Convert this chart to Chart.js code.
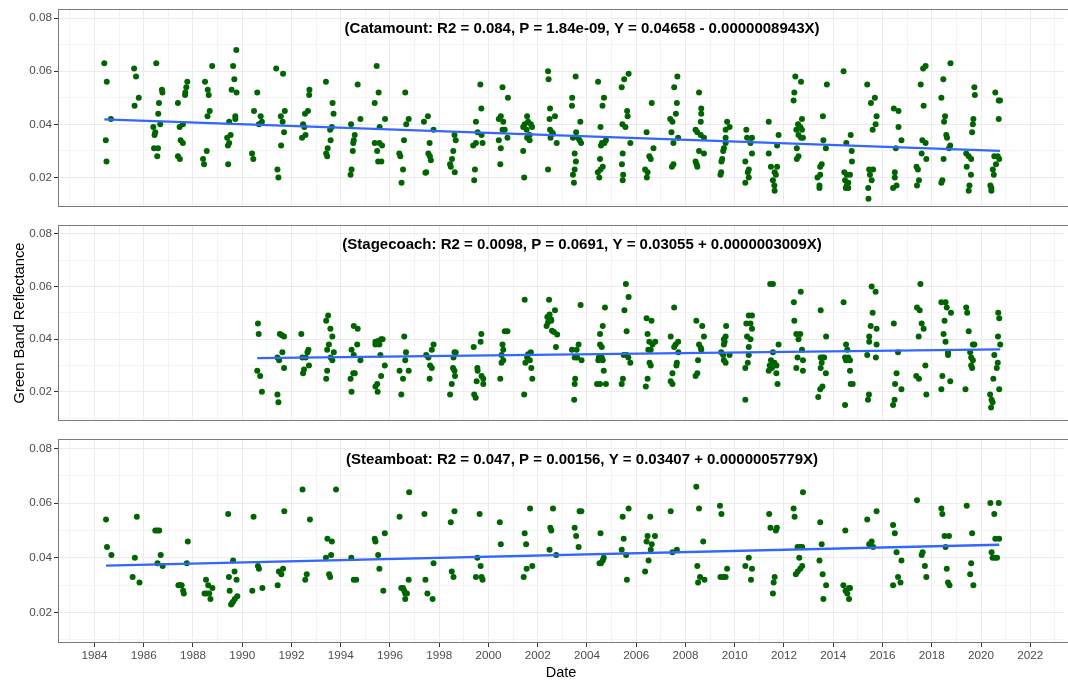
<!DOCTYPE html>
<html>
<head>
<meta charset="utf-8">
<script src="https://cdn.jsdelivr.net/npm/chart.js"></script>
<style>
  html, body { margin: 0; padding: 0; background: #fff; }
  #wrap { position: relative; width: 1068px; height: 680px; overflow: hidden; }
  .panel { position: absolute; left: 0; width: 1068px; }
</style>
</head>
<body>
<div id="wrap">
  <div class="panel" style="top:0px;height:216px"><canvas id="cat" width="1068" height="216"></canvas></div>
  <div class="panel" style="top:216px;height:214px"><canvas id="stage" width="1068" height="214"></canvas></div>
  <div class="panel" style="top:430px;height:250px"><canvas id="steam" width="1068" height="250"></canvas></div>
</div>
<script>
// axis ranges (decimal years / reflectance)
const X_MIN = 1982.52, X_MAX = 2023.37;
const Y_MIN = 0.0089, Y_MAX = 0.0834;
const xTickYears = [];
for (let y = 1983; y <= 2023; y++) xTickYears.push(y);
const yTickValues = [0.01, 0.02, 0.03, 0.04, 0.05, 0.06, 0.07, 0.08];

// fitted lines: Y = intercept + slope * X, X = days since 1970-01-01
const catamountFit = [0.04658, -0.0000008943];
const stagecoachFit = [0.03055, 0.0000003009];
const steamboatFit = [0.03407, 0.0000005779];

const catamountLabel = '(Catamount: R2 = 0.084, P = 1.84e-09, Y = 0.04658 - 0.0000008943X)';
const stagecoachLabel = '(Stagecoach: R2 = 0.0098, P = 0.0691, Y = 0.03055 + 0.0000003009X)';
const steamboatLabel = '(Steamboat: R2 = 0.047, P = 0.00156, Y = 0.03407 + 0.0000005779X)';

// observations [decimal year, green band reflectance]
const catamountObs = [
  [1984.40,0.063],[1984.50,0.056],[1984.67,0.042],[1984.46,0.034],[1984.49,0.026],
  [1985.61,0.061],[1985.69,0.058],[1985.80,0.050],[1985.63,0.047],
  [1986.51,0.063],[1986.74,0.053],[1986.76,0.052],[1986.62,0.048],[1986.59,0.044],[1986.67,0.040],[1986.39,0.039],[1986.47,0.037],[1986.44,0.036],[1986.42,0.031],[1986.58,0.031],[1986.55,0.028],
  [1987.77,0.056],[1987.73,0.054],[1987.69,0.052],[1987.68,0.051],[1987.39,0.048],[1987.59,0.040],[1987.46,0.039],[1987.50,0.034],[1987.59,0.033],[1987.39,0.028],[1987.47,0.027],
  [1988.49,0.056],[1988.60,0.053],[1988.64,0.051],[1988.68,0.045],[1988.59,0.043],[1988.78,0.062],[1988.56,0.030],[1988.41,0.027],[1988.45,0.025],
  [1989.76,0.068],[1989.63,0.062],[1989.68,0.057],[1989.57,0.053],[1989.77,0.052],[1989.72,0.043],[1989.72,0.042],[1989.47,0.041],[1989.53,0.036],[1989.39,0.035],[1989.47,0.033],[1989.42,0.032],[1989.43,0.025],
  [1990.61,0.052],[1990.48,0.045],[1990.75,0.043],[1990.80,0.041],[1990.68,0.040],[1990.40,0.029],[1990.45,0.027],
  [1991.38,0.061],[1991.66,0.059],[1991.73,0.045],[1991.57,0.043],[1991.64,0.041],[1991.70,0.037],[1991.58,0.032],[1991.43,0.023],[1991.47,0.020],
  [1992.73,0.053],[1992.72,0.051],[1992.67,0.045],[1992.55,0.044],[1992.47,0.040],[1992.52,0.039],[1992.57,0.036],[1992.43,0.035],
  [1993.40,0.056],[1993.67,0.048],[1993.71,0.044],[1993.64,0.039],[1993.57,0.038],[1993.59,0.034],[1993.47,0.031],[1993.41,0.029],[1993.45,0.028],
  [1994.69,0.055],[1994.80,0.042],[1994.42,0.040],[1994.57,0.036],[1994.53,0.034],[1994.51,0.033],[1994.49,0.030],[1994.44,0.023],[1994.40,0.021],
  [1995.46,0.062],[1995.54,0.052],[1995.38,0.048],[1995.58,0.039],[1995.80,0.042],[1995.38,0.033],[1995.57,0.033],[1995.68,0.032],[1995.48,0.030],[1995.52,0.026],[1995.65,0.026],
  [1996.62,0.052],[1996.76,0.042],[1996.66,0.040],[1996.57,0.034],[1996.38,0.029],[1996.42,0.028],[1996.53,0.023],[1996.47,0.018],
  [1997.54,0.043],[1997.38,0.041],[1997.77,0.038],[1997.61,0.033],[1997.56,0.029],[1997.62,0.028],[1997.66,0.0265],[1997.47,0.022],[1997.44,0.0218],
  [1998.62,0.036],[1998.67,0.034],[1998.57,0.030],[1998.52,0.027],[1998.44,0.025],[1998.47,0.024],[1998.63,0.022],
  [1999.67,0.055],[1999.71,0.046],[1999.49,0.041],[1999.56,0.037],[1999.72,0.036],[1999.76,0.033],[1999.38,0.032],[1999.49,0.033],[1999.45,0.023],[1999.42,0.019],
  [2000.57,0.054],[2000.79,0.050],[2000.42,0.042],[2000.50,0.043],[2000.60,0.041],[2000.57,0.038],[2000.66,0.038],[2000.77,0.035],[2000.42,0.034],[2000.50,0.031],[2000.48,0.025],
  [2001.57,0.043],[2001.41,0.039],[2001.47,0.040],[2001.61,0.041],[2001.72,0.040],[2001.77,0.039],[2001.55,0.038],[2001.67,0.036],[2001.57,0.035],[2001.67,0.034],[2001.41,0.030],[2001.45,0.020],
  [2002.42,0.060],[2002.44,0.057],[2002.50,0.046],[2002.70,0.043],[2002.48,0.042],[2002.50,0.038],[2002.58,0.037],[2002.62,0.0365],[2002.52,0.035],[2002.77,0.033],[2002.42,0.023],
  [2003.54,0.058],[2003.40,0.050],[2003.39,0.047],[2003.73,0.041],[2003.56,0.037],[2003.43,0.035],[2003.63,0.035],[2003.70,0.034],[2003.76,0.033],[2003.50,0.029],[2003.55,0.026],[2003.50,0.023],[2003.43,0.021],[2003.47,0.018],
  [2004.45,0.056],[2004.69,0.050],[2004.63,0.047],[2004.55,0.039],[2004.77,0.034],[2004.71,0.033],[2004.61,0.033],[2004.57,0.032],[2004.53,0.027],[2004.64,0.024],[2004.55,0.023],[2004.44,0.022],[2004.50,0.020],
  [2005.69,0.059],[2005.51,0.057],[2005.41,0.054],[2005.63,0.045],[2005.65,0.043],[2005.44,0.040],[2005.56,0.039],[2005.76,0.033],[2005.45,0.029],[2005.42,0.025],[2005.47,0.021],[2005.45,0.019],
  [2006.63,0.048],[2006.42,0.037],[2006.70,0.031],[2006.53,0.028],[2006.59,0.027],[2006.36,0.023],[2006.46,0.022],[2006.43,0.020],
  [2007.67,0.058],[2007.54,0.054],[2007.65,0.048],[2007.61,0.044],[2007.38,0.042],[2007.47,0.041],[2007.43,0.037],[2007.70,0.035],[2007.51,0.033],[2007.51,0.025],[2007.45,0.024],
  [2008.55,0.052],[2008.64,0.046],[2008.64,0.044],[2008.62,0.041],[2008.41,0.038],[2008.48,0.037],[2008.62,0.036],[2008.75,0.035],[2008.55,0.030],[2008.75,0.029],[2008.41,0.026],[2008.45,0.025],[2008.48,0.024],
  [2009.69,0.041],[2009.79,0.039],[2009.63,0.038],[2009.63,0.035],[2009.63,0.033],[2009.56,0.031],[2009.53,0.030],[2009.49,0.027],[2009.46,0.026],[2009.45,0.022],[2009.42,0.021],
  [2010.47,0.038],[2010.50,0.035],[2010.70,0.035],[2010.64,0.033],[2010.70,0.029],[2010.43,0.026],[2010.57,0.023],[2010.53,0.022],[2010.57,0.020],[2010.43,0.018],
  [2011.38,0.041],[2011.78,0.036],[2011.72,0.032],[2011.38,0.029],[2011.47,0.024],[2011.72,0.024],[2011.62,0.022],[2011.67,0.021],[2011.55,0.019],[2011.61,0.017],[2011.62,0.015],
  [2012.46,0.058],[2012.69,0.056],[2012.42,0.052],[2012.39,0.049],[2012.73,0.042],[2012.57,0.040],[2012.50,0.038],[2012.66,0.039],[2012.73,0.038],[2012.77,0.035],[2012.59,0.036],[2012.69,0.035],[2012.52,0.031],[2012.59,0.028],[2012.52,0.027],
  [2013.74,0.055],[2013.58,0.043],[2013.60,0.034],[2013.70,0.031],[2013.53,0.025],[2013.47,0.024],[2013.36,0.020],[2013.47,0.021],[2013.44,0.017],[2013.44,0.016],
  [2014.42,0.060],[2014.71,0.036],[2014.53,0.033],[2014.75,0.030],[2014.76,0.026],[2014.45,0.022],[2014.55,0.021],[2014.68,0.021],[2014.48,0.019],[2014.61,0.018],[2014.55,0.017],[2014.61,0.016],[2014.51,0.016],
  [2015.38,0.055],[2015.69,0.050],[2015.53,0.048],[2015.76,0.043],[2015.72,0.040],[2015.60,0.038],[2015.46,0.023],[2015.62,0.023],[2015.49,0.021],[2015.56,0.019],[2015.42,0.016],[2015.43,0.012],
  [2016.46,0.046],[2016.65,0.045],[2016.65,0.039],[2016.77,0.034],[2016.54,0.031],[2016.50,0.022],[2016.50,0.020],[2016.57,0.017],[2016.43,0.016],
  [2017.65,0.061],[2017.75,0.062],[2017.55,0.055],[2017.67,0.047],[2017.62,0.034],[2017.75,0.033],[2017.59,0.029],[2017.78,0.027],[2017.38,0.024],[2017.44,0.023],[2017.48,0.019],[2017.40,0.017],
  [2018.76,0.063],[2018.47,0.057],[2018.39,0.050],[2018.54,0.043],[2018.50,0.041],[2018.59,0.036],[2018.62,0.035],[2018.75,0.032],[2018.70,0.031],[2018.48,0.027],[2018.43,0.019],[2018.39,0.018],
  [2019.73,0.054],[2019.75,0.051],[2019.69,0.042],[2019.67,0.040],[2019.64,0.037],[2019.40,0.029],[2019.50,0.028],[2019.60,0.027],[2019.42,0.024],[2019.59,0.021],[2019.53,0.017],[2019.50,0.015],
  [2020.58,0.052],[2020.72,0.049],[2020.77,0.049],[2020.72,0.042],[2020.54,0.028],[2020.68,0.028],[2020.74,0.027],[2020.61,0.025],[2020.48,0.023],[2020.52,0.021],[2020.38,0.017],[2020.42,0.016],[2020.42,0.015]
];

const stagecoachObs = [
  [1990.64,0.046],[1990.67,0.042],[1990.61,0.028],[1990.73,0.026],[1990.80,0.020],
  [1991.53,0.042],[1991.61,0.0415],[1991.70,0.041],[1991.63,0.035],[1991.43,0.033],[1991.50,0.032],[1991.70,0.029],[1991.43,0.019],[1991.47,0.016],
  [1992.40,0.042],[1992.69,0.036],[1992.65,0.035],[1992.44,0.033],[1992.58,0.033],[1992.71,0.030],[1992.51,0.0285],[1992.47,0.027],
  [1993.49,0.049],[1993.41,0.047],[1993.58,0.044],[1993.66,0.041],[1993.52,0.038],[1993.72,0.035],[1993.45,0.036],[1993.59,0.033],[1993.66,0.032],[1993.45,0.028],[1993.41,0.025],
  [1994.53,0.045],[1994.69,0.044],[1994.67,0.038],[1994.44,0.036],[1994.53,0.034],[1994.80,0.032],[1994.57,0.027],[1994.51,0.027],[1994.40,0.025],[1994.44,0.020],
  [1995.41,0.039],[1995.52,0.0393],[1995.64,0.040],[1995.70,0.040],[1995.41,0.038],[1995.57,0.038],[1995.61,0.034],[1995.79,0.030],[1995.64,0.026],[1995.48,0.023],[1995.41,0.022],[1995.50,0.020],
  [1996.58,0.041],[1996.65,0.035],[1996.62,0.032],[1996.39,0.028],[1996.76,0.028],[1996.53,0.025],[1996.46,0.019],
  [1997.77,0.038],[1997.70,0.036],[1997.47,0.034],[1997.56,0.033],[1997.63,0.030],[1997.70,0.029],[1997.61,0.025],
  [1998.62,0.035],[1998.67,0.0349],[1998.58,0.033],[1998.56,0.029],[1998.62,0.028],[1998.64,0.026],[1998.51,0.023],[1998.44,0.019],
  [1999.71,0.042],[1999.68,0.039],[1999.40,0.037],[1999.55,0.029],[1999.56,0.028],[1999.72,0.026],[1999.79,0.025],[1999.52,0.024],[1999.79,0.023],[1999.42,0.019],[1999.48,0.0177],
  [2000.66,0.043],[2000.77,0.043],[2000.57,0.038],[2000.60,0.036],[2000.53,0.034],[2000.53,0.031],[2000.60,0.032],[2000.48,0.025],
  [2001.47,0.055],[2001.72,0.035],[2001.61,0.0343],[2001.57,0.033],[2001.50,0.031],[2001.68,0.032],[2001.74,0.029],[2001.78,0.025],[2001.45,0.019],
  [2002.46,0.055],[2002.70,0.051],[2002.39,0.0484],[2002.48,0.0494],[2002.54,0.0476],[2002.42,0.0464],[2002.55,0.047],[2002.36,0.045],[2002.58,0.0432],[2002.66,0.0427],[2002.79,0.0418],[2002.74,0.037],
  [2003.74,0.053],[2003.66,0.038],[2003.58,0.036],[2003.39,0.036],[2003.50,0.033],[2003.60,0.033],[2003.78,0.032],[2003.52,0.025],[2003.50,0.023],[2003.48,0.017],
  [2004.73,0.052],[2004.64,0.045],[2004.53,0.042],[2004.53,0.038],[2004.60,0.037],[2004.48,0.033],[2004.60,0.033],[2004.64,0.032],[2004.46,0.032],[2004.68,0.028],[2004.41,0.023],[2004.53,0.023],[2004.77,0.023],
  [2005.58,0.061],[2005.69,0.056],[2005.52,0.051],[2005.61,0.043],[2005.49,0.034],[2005.61,0.034],[2005.68,0.033],[2005.76,0.031],[2005.46,0.025],[2005.41,0.023],
  [2006.42,0.048],[2006.62,0.047],[2006.46,0.042],[2006.53,0.039],[2006.77,0.039],[2006.66,0.038],[2006.49,0.036],[2006.59,0.036],[2006.54,0.031],[2006.59,0.030],[2006.46,0.025],[2006.39,0.022],
  [2007.54,0.052],[2007.40,0.041],[2007.70,0.039],[2007.60,0.038],[2007.54,0.037],[2007.71,0.035],[2007.65,0.031],[2007.63,0.030],[2007.47,0.027],[2007.40,0.024],[2007.47,0.023],
  [2008.44,0.047],[2008.68,0.045],[2008.75,0.041],[2008.55,0.038],[2008.62,0.0367],[2008.64,0.036],[2008.51,0.032],[2008.48,0.027],[2008.41,0.026],
  [2009.65,0.045],[2009.63,0.041],[2009.56,0.040],[2009.59,0.039],[2009.56,0.038],[2009.45,0.035],[2009.53,0.034],[2009.56,0.032],[2009.63,0.031],[2009.79,0.034],
  [2010.57,0.049],[2010.70,0.049],[2010.47,0.046],[2010.64,0.046],[2010.70,0.044],[2010.50,0.041],[2010.64,0.040],[2010.57,0.037],[2010.57,0.034],[2010.53,0.031],[2010.43,0.029],[2010.43,0.017],
  [2011.44,0.061],[2011.55,0.061],[2011.78,0.038],[2011.55,0.035],[2011.47,0.032],[2011.61,0.031],[2011.42,0.030],[2011.69,0.030],[2011.38,0.028],[2011.51,0.029],[2011.69,0.027],[2011.74,0.023],
  [2012.68,0.058],[2012.40,0.054],[2012.42,0.047],[2012.50,0.042],[2012.66,0.042],[2012.59,0.040],[2012.73,0.036],[2012.55,0.033],[2012.77,0.032],[2012.50,0.029],[2012.77,0.028],
  [2013.49,0.051],[2013.71,0.041],[2013.57,0.033],[2013.49,0.033],[2013.63,0.033],[2013.53,0.031],[2013.49,0.029],[2013.70,0.027],[2013.56,0.022],[2013.47,0.021],[2013.39,0.018],
  [2014.42,0.054],[2014.52,0.038],[2014.57,0.036],[2014.48,0.033],[2014.61,0.033],[2014.68,0.032],[2014.52,0.032],[2014.68,0.028],[2014.71,0.023],[2014.79,0.023],[2014.48,0.015],
  [2015.56,0.060],[2015.72,0.058],[2015.60,0.050],[2015.52,0.045],[2015.76,0.044],[2015.46,0.041],[2015.46,0.039],[2015.76,0.038],[2015.38,0.034],[2015.73,0.033],[2015.45,0.019],[2015.41,0.017],
  [2016.46,0.046],[2016.63,0.035],[2016.57,0.027],[2016.51,0.023],[2016.77,0.021],[2016.49,0.017],[2016.43,0.015],
  [2017.54,0.061],[2017.40,0.052],[2017.51,0.051],[2017.59,0.046],[2017.67,0.044],[2017.47,0.041],[2017.37,0.026],[2017.48,0.025],[2017.74,0.030],[2017.78,0.019],
  [2018.39,0.054],[2018.56,0.054],[2018.61,0.052],[2018.78,0.050],[2018.52,0.047],[2018.48,0.042],[2018.56,0.039],[2018.66,0.035],[2018.66,0.034],[2018.43,0.026],[2018.75,0.024],[2018.39,0.021],
  [2019.40,0.052],[2019.44,0.050],[2019.50,0.043],[2019.67,0.038],[2019.73,0.038],[2019.56,0.035],[2019.60,0.033],[2019.67,0.032],[2019.60,0.030],[2019.64,0.029],[2019.37,0.021],
  [2020.70,0.050],[2020.74,0.048],[2020.69,0.041],[2020.78,0.038],[2020.54,0.034],[2020.68,0.031],[2020.64,0.029],[2020.50,0.025],[2020.74,0.021],[2020.37,0.019],[2020.43,0.017],[2020.47,0.016],[2020.41,0.014]
];

const steamboatObs = [
  [1984.47,0.054],[1984.51,0.044],[1984.69,0.041],
  [1985.55,0.033],[1985.64,0.040],[1985.72,0.055],[1985.83,0.031],
  [1986.47,0.050],[1986.55,0.050],[1986.63,0.050],[1986.56,0.038],[1986.69,0.041],[1986.77,0.037],
  [1987.41,0.030],[1987.48,0.030],[1987.54,0.030],[1987.60,0.028],[1987.63,0.027],[1987.75,0.038],[1987.79,0.046],
  [1988.53,0.032],[1988.62,0.030],[1988.47,0.027],[1988.55,0.027],[1988.66,0.027],[1988.79,0.029],[1988.71,0.025],
  [1989.43,0.056],[1989.46,0.033],[1989.49,0.028],[1989.55,0.023],[1989.63,0.024],[1989.70,0.025],[1989.80,0.026],[1989.59,0.0235],[1989.63,0.039],[1989.69,0.035],[1989.77,0.032],
  [1990.41,0.028],[1990.46,0.055],[1990.64,0.037],[1990.68,0.036],[1990.82,0.029],
  [1991.44,0.030],[1991.49,0.035],[1991.59,0.034],[1991.66,0.036],[1991.71,0.057],
  [1992.45,0.065],[1992.56,0.032],[1992.62,0.034],[1992.75,0.054],
  [1993.46,0.047],[1993.64,0.046],[1993.40,0.040],[1993.61,0.041],[1993.53,0.034],[1993.57,0.033],[1993.81,0.065],
  [1994.43,0.040],[1994.53,0.032],[1994.63,0.032],
  [1995.38,0.047],[1995.41,0.046],[1995.52,0.041],[1995.57,0.036],[1995.79,0.049],[1995.73,0.028],
  [1996.39,0.055],[1996.46,0.029],[1996.53,0.029],[1996.58,0.028],[1996.62,0.027],[1996.69,0.027],[1996.62,0.025],[1996.76,0.032],[1996.78,0.064],
  [1997.40,0.056],[1997.44,0.032],[1997.52,0.027],[1997.73,0.025],[1997.77,0.038],
  [1998.47,0.053],[1998.51,0.035],[1998.58,0.033],[1998.62,0.057],
  [1999.55,0.040],[1999.49,0.033],[1999.64,0.056],[1999.68,0.037],[1999.72,0.033],[1999.76,0.032],
  [2000.46,0.053],[2000.50,0.045],
  [2001.47,0.049],[2001.53,0.045],[2001.43,0.033],[2001.55,0.036],[2001.78,0.037],[2001.69,0.058],
  [2002.48,0.043],[2002.51,0.051],[2002.55,0.050],[2002.62,0.058],[2002.75,0.041],
  [2003.50,0.051],[2003.56,0.048],[2003.66,0.044],[2003.70,0.057],[2003.77,0.057],
  [2004.51,0.038],[2004.57,0.038],[2004.64,0.039],[2004.68,0.040],[2004.55,0.049],
  [2005.41,0.043],[2005.49,0.047],[2005.45,0.055],[2005.59,0.041],[2005.62,0.032],[2005.69,0.058],
  [2006.36,0.035],[2006.42,0.046],[2006.46,0.048],[2006.50,0.039],[2006.57,0.055],[2006.59,0.043],[2006.63,0.045],[2006.76,0.048],
  [2007.40,0.057],[2007.47,0.042],[2007.65,0.043],
  [2008.44,0.066],[2008.55,0.058],[2008.48,0.037],[2008.51,0.031],[2008.59,0.033],[2008.72,0.046],[2008.77,0.032],
  [2009.40,0.059],[2009.46,0.056],[2009.42,0.033],[2009.53,0.033],[2009.63,0.033],[2009.69,0.036],
  [2010.43,0.037],[2010.57,0.040],[2010.66,0.032],[2010.70,0.036],
  [2011.40,0.056],[2011.45,0.051],[2011.55,0.027],[2011.58,0.031],[2011.62,0.033],[2011.67,0.050],[2011.71,0.051],
  [2012.39,0.058],[2012.43,0.055],[2012.48,0.034],[2012.56,0.035],[2012.66,0.036],[2012.74,0.037],[2012.55,0.044],[2012.66,0.044],[2012.74,0.044],[2012.62,0.040],[2012.77,0.064],
  [2013.47,0.053],[2013.53,0.045],[2013.44,0.039],[2013.57,0.034],[2013.71,0.030],[2013.60,0.025],
  [2014.49,0.050],[2014.41,0.030],[2014.50,0.028],[2014.57,0.027],[2014.64,0.029],[2014.68,0.029],[2014.64,0.025],
  [2015.38,0.054],[2015.46,0.045],[2015.56,0.046],[2015.49,0.045],[2015.62,0.044],[2015.76,0.057],
  [2016.43,0.052],[2016.50,0.049],[2016.57,0.042],[2016.63,0.033],[2016.73,0.031],[2016.77,0.039],[2016.43,0.030],
  [2017.40,0.061],[2017.59,0.041],[2017.63,0.042],[2017.72,0.037],[2017.78,0.033],
  [2018.39,0.058],[2018.43,0.056],[2018.52,0.048],[2018.70,0.048],[2018.56,0.044],[2018.61,0.036],[2018.66,0.031],[2018.72,0.030],
  [2019.42,0.059],[2019.64,0.049],[2019.60,0.038],[2019.56,0.034],[2019.69,0.030],
  [2020.38,0.060],[2020.72,0.060],[2020.54,0.056],[2020.58,0.047],[2020.74,0.047],[2020.43,0.042],[2020.47,0.040],[2020.57,0.040],[2020.65,0.040]
];

const FONT = "'Liberation Sans', Arial, Helvetica, sans-serif";
const GRID_MAJOR = '#EBEBEB';
const GRID_MINOR = '#F4F4F4';

// draws the panel frame (open on the right, the picture is cut there) and the equation text
const panelPlugin = {
  id: 'panelNote',
  afterDatasetsDraw(chart, args, opts) {
    const ctx = chart.ctx;
    const a = chart.chartArea;
    const xs = chart.scales.x, ys = chart.scales.y;
    ctx.save();
    ctx.font = 'bold 15px ' + FONT;
    ctx.fillStyle = '#000';
    ctx.textAlign = 'center';
    ctx.textBaseline = 'middle';
    ctx.fillText(opts.text, xs.getPixelForValue(2003.8), ys.getPixelForValue(0.0758));
    ctx.strokeStyle = '#7a7a7a';
    ctx.lineWidth = 1;
    ctx.strokeRect(Math.round(a.left) + 0.5, Math.round(a.top) + 0.5,
                   Math.round(a.right - a.left) + 20, Math.round(a.bottom - a.top) - 1);
    ctx.restore();
  }
};

function fitLine(obs, fit) {
  const xs = obs.map(p => p[0]);
  const x0 = Math.min(...xs), x1 = Math.max(...xs);
  const f = yr => fit[0] + fit[1] * (yr - 1970) * 365.25;
  return [{ x: x0, y: f(x0) }, { x: x1, y: f(x1) }];
}

function makePanel(id, obs, fit, label, o) {
  const isEven = v => Math.round(v) % 2 === 0;
  const isMajorY = v => Math.round(v * 100) % 2 === 0;
  return new Chart(document.getElementById(id), {
    type: 'scatter',
    data: {
      datasets: [
        {
          data: fitLine(obs, fit),
          showLine: true,
          borderColor: '#3366FF',
          borderWidth: 2.3,
          pointRadius: 0
        },
        {
          data: obs.map(p => ({ x: p[0], y: p[1] })),
          backgroundColor: '#006400',
          borderWidth: 0,
          pointRadius: 3
        }
      ]
    },
    options: {
      responsive: false,
      animation: false,
      events: [],
      layout: { padding: { left: 0, right: 0, top: o.padTop, bottom: o.padBottom } },
      plugins: {
        legend: { display: false },
        tooltip: { enabled: false },
        panelNote: { text: label }
      },
      scales: {
        x: {
          type: 'linear',
          min: X_MIN,
          max: X_MAX,
          afterBuildTicks: s => { s.ticks = xTickYears.map(v => ({ value: v })); },
          afterFit: s => { s.height = o.showX ? 37 : 0; },
          border: { display: false },
          grid: {
            color: c => isEven(c.tick.value) ? GRID_MAJOR : GRID_MINOR,
            lineWidth: 1,
            drawTicks: o.showX,
            tickLength: 4,
            tickColor: c => isEven(c.tick.value) ? '#333333' : 'rgba(0,0,0,0)'
          },
          ticks: {
            display: o.showX,
            autoSkip: false,
            maxRotation: 0,
            padding: 2,
            color: '#4D4D4D',
            font: { family: FONT, size: 11.7 },
            callback: v => isEven(v) ? String(Math.round(v)) : ''
          },
          title: {
            display: o.showX,
            text: 'Date',
            color: '#000',
            font: { family: FONT, size: 14.5, lineHeight: 1 },
            padding: { top: 0, bottom: 0 }
          }
        },
        y: {
          min: Y_MIN,
          max: Y_MAX,
          afterBuildTicks: s => { s.ticks = yTickValues.map(v => ({ value: v })); },
          afterFit: s => { s.width = 58; },
          border: { display: false },
          grid: {
            color: c => isMajorY(c.tick.value) ? GRID_MAJOR : GRID_MINOR,
            lineWidth: 1,
            tickLength: 4,
            tickColor: c => isMajorY(c.tick.value) ? '#333333' : 'rgba(0,0,0,0)'
          },
          ticks: {
            padding: 2,
            color: '#4D4D4D',
            font: { family: FONT, size: 11.7 },
            callback: v => isMajorY(v) ? v.toFixed(2) : ''
          },
          title: {
            display: o.showYTitle,
            text: 'Green Band Reflectance',
            color: '#000',
            font: { family: FONT, size: 14.7 },
            padding: { top: 11, bottom: 0 }
          }
        }
      }
    },
    plugins: [panelPlugin]
  });
}

makePanel('cat', catamountObs, catamountFit, catamountLabel,
  { padTop: 8, padBottom: 2, showX: false, showYTitle: false });
makePanel('stage', stagecoachObs, stagecoachFit, stagecoachLabel,
  { padTop: 6, padBottom: 2, showX: false, showYTitle: true });
makePanel('steam', steamboatObs, steamboatFit, steamboatLabel,
  { padTop: 7, padBottom: 0, showX: true, showYTitle: false });
</script>
</body>
</html>
